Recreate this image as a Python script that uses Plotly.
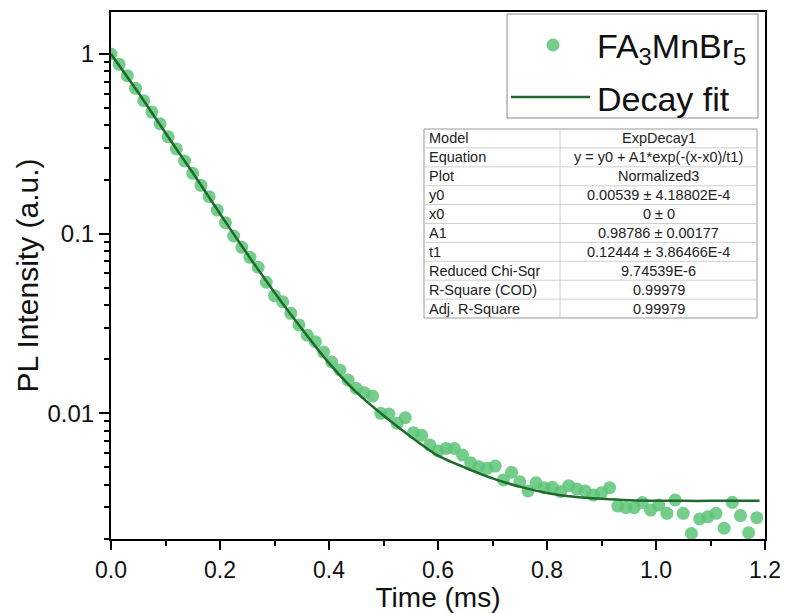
import plotly.graph_objects as go

# ---------------- data ----------------
time_ms = [0.000, 0.015, 0.030, 0.045, 0.060, 0.075, 0.090, 0.105, 0.120, 0.135,
           0.150, 0.165, 0.180, 0.195, 0.210, 0.225, 0.240, 0.255, 0.270, 0.285,
           0.300, 0.315, 0.330, 0.345, 0.360, 0.375, 0.390, 0.405, 0.420, 0.435,
           0.450, 0.465, 0.480, 0.495, 0.510, 0.525, 0.540, 0.555, 0.570, 0.585,
           0.600, 0.615, 0.630, 0.645, 0.660, 0.675, 0.690, 0.705, 0.720, 0.735,
           0.750, 0.765, 0.780, 0.795, 0.810, 0.825, 0.840, 0.855, 0.870, 0.885,
           0.900, 0.915, 0.930, 0.945, 0.960, 0.975, 0.990, 1.005, 1.020, 1.035,
           1.050, 1.065, 1.080, 1.095, 1.110, 1.125, 1.140, 1.155, 1.170, 1.185]

intensity = [1.0, 0.876, 0.757, 0.644, 0.550, 0.475, 0.409, 0.346, 0.296, 0.2536,
             0.2167, 0.1857, 0.1605, 0.1353, 0.1150, 0.0970, 0.0839, 0.0738, 0.0649, 0.0536,
             0.0451, 0.0418, 0.0360, 0.0310, 0.0272, 0.0250, 0.0219, 0.0193, 0.0174, 0.0153,
             0.01376, 0.0130, 0.01246, 0.00999, 0.00990, 0.00879, 0.00944, 0.00779, 0.00753, 0.00665,
             0.00616, 0.00637, 0.00637, 0.00585, 0.00530, 0.00504, 0.00493, 0.00508, 0.00425, 0.00469,
             0.00415, 0.00369, 0.00410, 0.00385, 0.00387, 0.00366, 0.00395, 0.00378, 0.00369, 0.00350,
             0.00361, 0.00385, 0.00304, 0.00298, 0.00298, 0.00318, 0.00289, 0.00308, 0.00277, 0.00329,
             0.00277, 0.00214, 0.00258, 0.00265, 0.00277, 0.00229, 0.00319, 0.00269, 0.00216, 0.00262]

fit_time = [0.0, 0.05, 0.10, 0.15, 0.20, 0.25, 0.30, 0.35, 0.40, 0.45, 0.50, 0.55,
            0.60, 0.65, 0.70, 0.75, 0.80, 0.85, 0.90, 0.95, 1.00, 1.05, 1.10, 1.15, 1.19]
fit_value = [1.0, 0.61, 0.363, 0.218, 0.129, 0.077, 0.047, 0.0295, 0.019, 0.0131, 0.0097, 0.0074,
             0.0058, 0.00497, 0.00434, 0.0039, 0.0036, 0.00343, 0.00334, 0.00328, 0.00326,
             0.00325, 0.00325, 0.00325, 0.00325]

x_tick_vals = [0.0, 0.2, 0.4, 0.6, 0.8, 1.0, 1.2]
x_tick_text = ["0.0", "0.2", "0.4", "0.6", "0.8", "1.0", "1.2"]
y_tick_vals = [0.01, 0.1, 1]
y_tick_text = ["0.01", "0.1", "1"]

series_name = "FA<sub>3</sub>MnBr<sub>5</sub>"
fit_name = "Decay fit"

table_params = ["Model", "Equation", "Plot", "y0", "x0", "A1", "t1",
                "Reduced Chi-Sqr", "R-Square (COD)", "Adj. R-Square"]
table_values = ["ExpDecay1", "y = y0 + A1*exp(-(x-x0)/t1)", "Normalized3",
                "0.00539 ± 4.18802E-4", "0 ± 0", "0.98786 ± 0.00177",
                "0.12444 ± 3.86466E-4", "9.74539E-6", "0.99979", "0.99979"]

# ---------------- styling / layout ----------------
# window is 788x613; the page body adds an 8 px offset
OFF = 8
W, H = 788 - OFF, 613 - OFF
# plot-area edges in window pixels
X_LEFT, X_RIGHT, Y_TOP, Y_BOT = 111, 765, 12, 539
L = X_LEFT - OFF
T = Y_TOP - OFF
R = W - (X_RIGHT - OFF)
B = H - (Y_BOT - OFF)
PW, PH = X_RIGHT - X_LEFT, Y_BOT - Y_TOP
FONT = "Liberation Sans, Arial, sans-serif"
MARKER_COLOR = "rgba(92,196,118,0.85)"
LINE_COLOR = "#1d6b2c"


def px(x):
    return (x - X_LEFT) / PW


def py(y):
    return (Y_BOT - y) / PH


minor_y = [m * d for d in (0.001, 0.01, 0.1, 1) for m in range(2, 10)]
minor_x = [0.1, 0.3, 0.5, 0.7, 0.9, 1.1]

fig = go.Figure()
fig.add_trace(go.Scatter(
    x=time_ms, y=intensity, mode="markers", name=series_name,
    marker=dict(size=13, color=MARKER_COLOR, line=dict(width=0)),
))
fig.add_trace(go.Scatter(
    x=fit_time, y=fit_value, mode="lines", name=fit_name,
    line=dict(color=LINE_COLOR, width=2.5, shape="spline", smoothing=0.6),
))

axis_common = dict(showline=True, linecolor="black", linewidth=2, mirror=True,
                   showgrid=False, zeroline=False, ticks="outside",
                   tickcolor="black", tickwidth=1.5,
                   tickfont=dict(family=FONT, size=24, color="#111"))

fig.update_xaxes(range=[0, 1.2], tickvals=x_tick_vals, ticktext=x_tick_text, ticklen=9,
                 ticklabelstandoff=0,
                 minor=dict(tickvals=minor_x, ticks="outside", ticklen=5,
                            tickcolor="black", tickwidth=1.5),
                 title=dict(text="Time (ms)", font=dict(family=FONT, size=28, color="#111"),
                            standoff=6),
                 **axis_common)
fig.update_xaxes(tickfont=dict(family=FONT, size=23, color="#111"))
fig.update_yaxes(type="log", range=[-2.7004, 0.2339], tickvals=y_tick_vals,
                 ticktext=y_tick_text, ticklen=10,
                 minor=dict(tickvals=minor_y, ticks="outside", ticklen=5,
                            tickcolor="black", tickwidth=1.5),
                 title=dict(text="PL Intensity (a.u.)", font=dict(family=FONT, size=30, color="#111"),
                            standoff=0),
                 **axis_common)

shapes = []
annotations = []

# ---- legend box (drawn by hand to match the original) ----
shapes.append(dict(type="rect", xref="paper", yref="paper",
                   x0=px(507), x1=px(758), y0=py(118), y1=py(14),
                   line=dict(color="#8a8a8a", width=1), fillcolor="white", layer="above"))
shapes.append(dict(type="circle", xref="paper", yref="paper",
                   x0=px(546.5), x1=px(559.5), y0=py(51.5), y1=py(38.5),
                   fillcolor=MARKER_COLOR, line=dict(width=0), layer="above"))
shapes.append(dict(type="line", xref="paper", yref="paper",
                   x0=px(511), x1=px(590), y0=py(97), y1=py(97),
                   line=dict(color=LINE_COLOR, width=2.5), layer="above"))
annotations.append(dict(xref="paper", yref="paper", x=px(595), y=py(48),
                        xanchor="left", yanchor="middle", showarrow=False,
                        text=series_name, font=dict(family=FONT, size=34, color="#111")))
annotations.append(dict(xref="paper", yref="paper", x=px(595), y=py(99),
                        xanchor="left", yanchor="middle", showarrow=False,
                        text=fit_name, font=dict(family=FONT, size=34, color="#111")))

# ---- fit-result table ----
tx0, tx1, tdiv = 424, 757, 560
ty0, row_h = 129, 18.9
n = len(table_params)
shapes.append(dict(type="rect", xref="paper", yref="paper",
                   x0=px(tx0), x1=px(tx1), y0=py(ty0 + n * row_h), y1=py(ty0),
                   line=dict(color="#9a9a9a", width=1), fillcolor="white", layer="above"))
for i in range(1, n):
    yy = ty0 + i * row_h
    shapes.append(dict(type="line", xref="paper", yref="paper",
                       x0=px(tx0), x1=px(tx1), y0=py(yy), y1=py(yy),
                       line=dict(color="#d0d0d0", width=1), layer="above"))
shapes.append(dict(type="line", xref="paper", yref="paper",
                   x0=px(tdiv), x1=px(tdiv), y0=py(ty0), y1=py(ty0 + n * row_h),
                   line=dict(color="#d0d0d0", width=1), layer="above"))
for i, (p, v) in enumerate(zip(table_params, table_values)):
    yc = ty0 + (i + 0.5) * row_h
    annotations.append(dict(xref="paper", yref="paper", x=px(tx0 + 3), y=py(yc),
                            xanchor="left", yanchor="middle", showarrow=False,
                            text=p, font=dict(family=FONT, size=14.5, color="#222")))
    annotations.append(dict(xref="paper", yref="paper", x=px((tdiv + tx1) / 2), y=py(yc),
                            xanchor="center", yanchor="middle", showarrow=False,
                            text=v, font=dict(family=FONT, size=14.5, color="#222")))

fig.update_layout(
    width=W, height=H,
    margin=dict(l=L, r=R, t=T, b=B, autoexpand=False),
    paper_bgcolor="white", plot_bgcolor="white",
    showlegend=False,
    shapes=shapes, annotations=annotations,
)

fig.write_html("out.html")
